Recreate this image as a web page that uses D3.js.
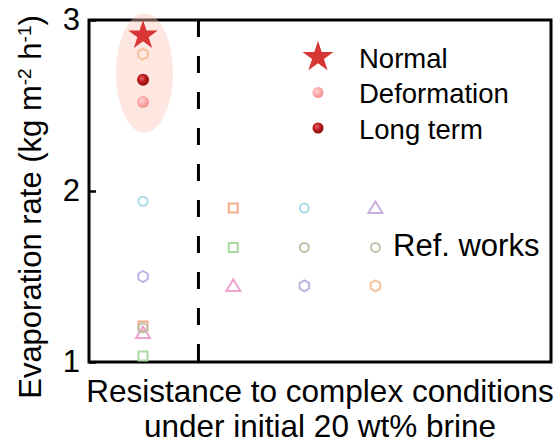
<!DOCTYPE html>
<html>
<head>
<meta charset="utf-8">
<script src="https://cdn.jsdelivr.net/npm/d3@7"></script>
<style>
  html, body { margin: 0; padding: 0; background: #fff; }
  svg text { font-family: "Liberation Sans", Arial, sans-serif; fill: #000; }
</style>
</head>
<body>
<svg id="chart" width="558" height="444"></svg>
<script>
// ---- data ----
const yTicks = [1, 2, 3];
const xLabelLines = ["Resistance to complex conditions", "under initial 20 wt% brine"];
const yLabelParts = [["Evaporation rate (kg m", 0], ["-2", 1], [" h", 0], ["-1", 1], [")", 0]];

// column positions: this work, then three columns of reference works
const thisWorkX = 0.76;
const dividerX = 1.54;

const normalPts = [{ x: thisWorkX, y: 2.91 }];
const deformationPts = [{ x: thisWorkX, y: 2.52 }];
const longTermPts = [{ x: thisWorkX, y: 2.65 }];

// reference works: id, x column, evaporation rate
const refIds = ["A", "B", "C", "D", "E", "F", "I", "A", "B", "C", "D", "E", "F", "G", "H", "I"];
const refXs  = [0.76, 0.76, 0.76, 0.76, 0.76, 0.76, 0.76, 2.03, 2.03, 2.03, 3.03, 3.03, 3.03, 4.03, 4.03, 4.03];
const refYs  = [1.21, 1.035, 1.17, 1.94, 1.20, 1.50, 2.80, 1.90, 1.67, 1.445, 1.90, 1.67, 1.445, 1.90, 1.67, 1.445];

const legendItems = ["Normal", "Deformation", "Long term"];

// ---- marker styles per reference ----
const refStyle = {
  A: { shape: "square",   color: "#F6A98C" },
  B: { shape: "square",   color: "#A9D9A1" },
  C: { shape: "triangle", color: "#EDA2CF" },
  D: { shape: "circle",   color: "#A7DCE7" },
  E: { shape: "circle",   color: "#B9C3A3" },
  F: { shape: "hexagon",  color: "#B9B7E2" },
  G: { shape: "triangle", color: "#C8AEDF" },
  H: { shape: "circle",   color: "#BCC5A9" },
  I: { shape: "hexagon",  color: "#F6C29C" }
};

const svg = d3.select("#chart");
const margin = { left: 89, top: 20, right: 7, bottom: 82 };
const W = 558, H = 444;

const x = d3.scaleLinear().domain([0, 6.5]).range([margin.left, W - margin.right]);
const y = d3.scaleLinear().domain([1, 3]).range([H - margin.bottom, margin.top]);

// gradients for the sphere markers
const defs = svg.append("defs");
function sphereGrad(id, hi, mid, edge) {
  const g = defs.append("radialGradient").attr("id", id)
    .attr("cx", "40%").attr("cy", "38%").attr("r", "65%");
  g.append("stop").attr("offset", "0%").attr("stop-color", hi);
  g.append("stop").attr("offset", "45%").attr("stop-color", mid);
  g.append("stop").attr("offset", "100%").attr("stop-color", edge);
}
sphereGrad("gradDeform", "#FFD6D6", "#FFAFAF", "#F28F8F");
sphereGrad("gradLong", "#E86A6A", "#BE1E1E", "#8A0A0A");

// frame
svg.append("rect")
  .attr("x", x(0)).attr("y", y(3))
  .attr("width", x(6.5) - x(0)).attr("height", y(1) - y(3))
  .attr("fill", "none").attr("stroke", "#000").attr("stroke-width", 3);

// y axis
const yAxis = svg.append("g")
  .attr("transform", `translate(${x(0)},0)`)
  .call(d3.axisLeft(y).tickValues(yTicks).tickFormat(d3.format("d"))
    .tickSizeInner(-7).tickSizeOuter(0).tickPadding(9));
yAxis.select(".domain").remove();
yAxis.selectAll(".tick line").attr("stroke", "#000").attr("stroke-width", 2.5);
yAxis.selectAll(".tick text")
  .style("font-size", "31px").style("font-family", "'Liberation Sans', Arial, sans-serif")
  .attr("fill", "#000");

// divider between this work and reference works
svg.append("line")
  .attr("x1", x(dividerX)).attr("x2", x(dividerX))
  .attr("y1", y(3)).attr("y2", y(1))
  .attr("stroke", "#000").attr("stroke-width", 3)
  .attr("stroke-dasharray", "17,19");

// highlight around this work
const hl = [...normalPts, ...deformationPts, ...longTermPts];
const hlTop = d3.max(hl, d => d.y) + 0.13, hlBot = d3.min(hl, d => d.y) - 0.18;
svg.append("ellipse")
  .attr("cx", x(thisWorkX) + 1.5)
  .attr("cy", (y(hlTop) + y(hlBot)) / 2)
  .attr("rx", 28.5)
  .attr("ry", (y(hlBot) - y(hlTop)) / 2)
  .attr("fill", "#FAC4B1").attr("fill-opacity", 0.4);

// marker path generators
function markerPath(shape) {
  if (shape === "square") return "M-4.5,-4.5H4.5V4.5H-4.5Z";
  if (shape === "circle") return d3.symbol(d3.symbolCircle, 64)();
  if (shape === "triangle") return "M0,-6.5L7,5L-7,5Z";
  if (shape === "hexagon") {
    const r = 5.5;
    return d3.range(6).map(i => {
      const a = Math.PI / 3 * i;
      return (i ? "L" : "M") + (r * Math.sin(a)).toFixed(2) + "," + (-r * Math.cos(a)).toFixed(2);
    }).join("") + "Z";
  }
}

const refData = refIds.map((id, i) => ({ id, x: refXs[i], y: refYs[i] }));
svg.append("g").selectAll("path").data(refData).join("path")
  .attr("transform", d => `translate(${x(d.x)},${y(d.y)})`)
  .attr("d", d => markerPath(refStyle[d.id].shape))
  .attr("fill", "none")
  .attr("stroke", d => refStyle[d.id].color)
  .attr("stroke-width", 2);

// this work markers
const starPath = d3.symbol(d3.symbolStar, 270)();
svg.append("g").selectAll("path").data(normalPts).join("path")
  .attr("transform", d => `translate(${x(d.x)},${y(d.y)})`)
  .attr("d", starPath).attr("fill", "#D83535");
svg.append("g").selectAll("circle").data(longTermPts).join("circle")
  .attr("cx", d => x(d.x)).attr("cy", d => y(d.y)).attr("r", 6)
  .attr("fill", "url(#gradLong)");
svg.append("g").selectAll("circle").data(deformationPts).join("circle")
  .attr("cx", d => x(d.x)).attr("cy", d => y(d.y)).attr("r", 6)
  .attr("fill", "url(#gradDeform)");

// legend
const legend = svg.append("g").attr("transform", "translate(318,57)");
legendItems.forEach((name, i) => {
  const g = legend.append("g").attr("transform", `translate(0,${i * 35.5})`);
  if (i === 0) g.append("path").attr("d", d3.symbol(d3.symbolStar, 300)()).attr("fill", "#D83535");
  else g.append("circle").attr("r", 5.5).attr("fill", i === 1 ? "url(#gradDeform)" : "url(#gradLong)");
  g.append("text").attr("x", 41).attr("y", 10.5).style("font-size", "27.5px").text(name);
});

svg.append("text").attr("x", 393).attr("y", 255.5).style("font-size", "31px").text("Ref. works");

// x label
svg.append("text")
  .attr("text-anchor", "middle").style("font-size", "31.5px")
  .selectAll("tspan").data(xLabelLines).join("tspan")
  .attr("x", 320).attr("y", (d, i) => 402 + i * 35).text(d => d);

// y label
const yl = svg.append("text")
  .attr("transform", "translate(41,207) rotate(-90)")
  .attr("text-anchor", "middle").style("font-size", "31px");
yl.selectAll("tspan").data(yLabelParts).join("tspan")
  .attr("baseline-shift", d => d[1] ? "super" : null)
  .style("font-size", d => d[1] ? "19px" : null)
  .text(d => d[0]);
</script>
</body>
</html>
